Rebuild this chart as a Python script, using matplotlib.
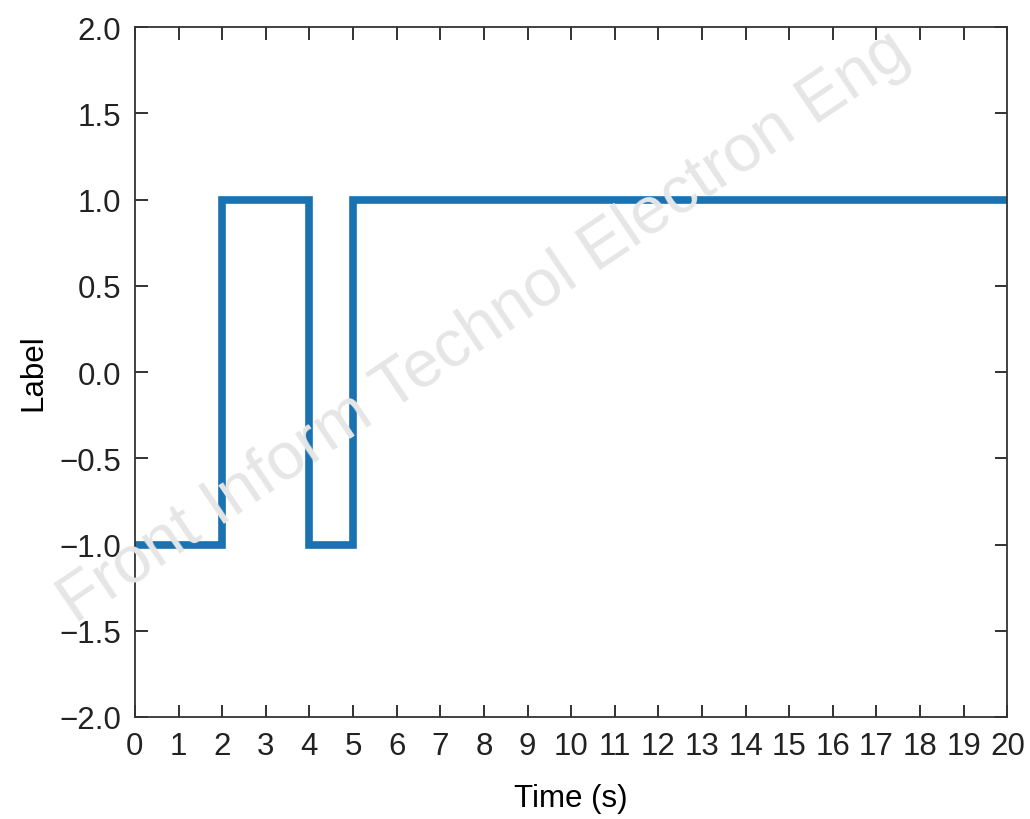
#!/bin/env python3
'''
Step plot of label vs time
'''

import numpy as np
import matplotlib
matplotlib.use("Agg")
import matplotlib.pyplot as plt

# data: breakpoints of the label signal
time = [0, 2, 2, 4, 4, 5, 5, 20]
label = [-1, -1, 1, 1, -1, -1, 1, 1]

x_ticks = list(range(0, 21))
y_ticks = [-2.0, -1.5, -1.0, -0.5, 0.0, 0.5, 1.0, 1.5, 2.0]
y_tick_labels = ["\u22122.0", "\u22121.5", "\u22121.0", "\u22120.5", "0.0",
                 "0.5", "1.0", "1.5", "2.0"]

plt.rcParams['font.family'] = ['Liberation Sans', 'DejaVu Sans']

fig = plt.figure(figsize=(10.3, 8.2), dpi=100)
ax = fig.add_axes([0.131, 0.1244, 0.847, 0.8414])

# watermark
fig.text(0.47, 0.60, "Front Inform Technol Electron Eng", fontsize=48,
         color="#e6e6e6", rotation=34, ha="center", va="center", zorder=0)

ax.plot(time, label, color="#1a72b0", linewidth=5.5, solid_joinstyle="miter")
ax.patch.set_alpha(0)

ax.set_xlim(0, 20)
ax.set_ylim(-2, 2)
ax.set_xticks(x_ticks)
ax.set_yticks(y_ticks)
ax.set_yticklabels(y_tick_labels)
ax.tick_params(direction="in", length=9, width=1.3, top=True, right=True,
               labelsize=22.5, pad=10, colors="#222222")
for s in ax.spines.values():
    s.set_linewidth(1.3)
    s.set_color("#333333")

ax.set_xlabel("Time (s)", fontsize=22.5, labelpad=16)
ax.set_ylabel("Label", fontsize=22.5, labelpad=8)

fig.savefig("out.png", dpi=100)
